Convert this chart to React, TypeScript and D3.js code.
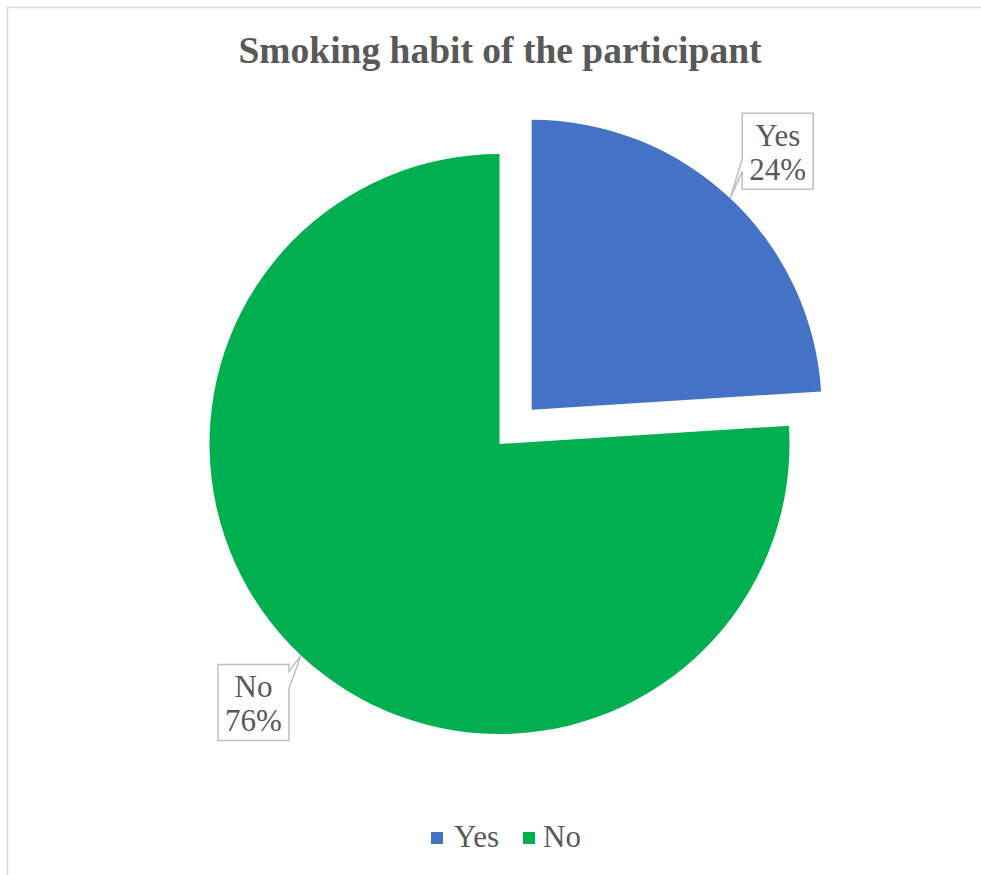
import React from "react";
import * as d3 from "d3";

const categories = ["Yes", "No"];
const values = [24, 76];
const colors = ["#4472C4", "#00B050"];
const title = "Smoking habit of the participant";

const W = 981;
const H = 875;
const cx = 499.5;
const cy = 444;
const R = 290;
const explode = [47, 0];
const textColor = "#595959";
const font = "'Liberation Serif', 'Times New Roman', serif";

export default function App() {
  const total = d3.sum(values);
  const pie = d3.pie<number>().sort(null).startAngle(0).endAngle(2 * Math.PI);
  const arcs = pie(values);
  const arc = d3.arc<d3.PieArcDatum<number>>().innerRadius(0).outerRadius(R);

  return (
    <svg width={W} height={H} style={{ position: "absolute", left: 0, top: 0 }}>
      <rect x={0} y={0} width={W} height={H} fill="#fff" />
      <path d={`M7.5,${H + 5} L7.5,7.5 L${W + 5},7.5`} fill="none" stroke="#D9D9D9" strokeWidth={1.5} />
      <text x={500} y={63} textAnchor="middle" fontFamily={font} fontWeight="bold" fontSize={37.5} fill={textColor}>
        {title}
      </text>
      {arcs.map((a, i) => {
        const mid = (a.startAngle + a.endAngle) / 2;
        const ox = explode[i] * Math.sin(mid);
        const oy = -explode[i] * Math.cos(mid);
        return (
          <g key={categories[i]} transform={`translate(${cx + ox},${cy + oy})`}>
            <path d={arc(a) || ""} fill={colors[i]} />
          </g>
        );
      })}
      {arcs.map((a, i) => {
        const mid = (a.startAngle + a.endAngle) / 2;
        const ox = explode[i] * Math.sin(mid);
        const oy = -explode[i] * Math.cos(mid);
        const tx = cx + ox + R * Math.sin(mid);
        const ty = cy + oy - R * Math.cos(mid);
        const right = Math.sin(mid) >= 0;
        const bw = 71;
        const bh = 76;
        let bx: number, by: number, path: string;
        if (right) {
          bx = tx + 12;
          by = ty - 85;
          path = `M${bx},${by} L${bx + bw},${by} L${bx + bw},${by + bh} L${bx},${by + bh} L${bx},${by + 58} L${tx},${ty} L${bx},${by + 46} Z`;
        } else {
          bx = tx - 12 - bw;
          by = ty + 9;
          path = `M${bx},${by} L${bx + bw},${by} L${bx + bw},${by + 7} L${tx},${ty} L${bx + bw},${by + 24} L${bx + bw},${by + bh} L${bx},${by + bh} Z`;
        }
        const pct = Math.round((values[i] / total) * 100) + "%";
        return (
          <g key={"lab" + i}>
            <path d={path} fill="#fff" stroke="#BFBFBF" strokeWidth={1.5} />
            <text x={bx + bw / 2} y={by + 33} textAnchor="middle" fontFamily={font} fontSize={31} fill={textColor}>
              {categories[i]}
            </text>
            <text x={bx + bw / 2} y={by + 67} textAnchor="middle" fontFamily={font} fontSize={31} fill={textColor}>
              {pct}
            </text>
          </g>
        );
      })}
      <g>
        <rect x={431} y={832} width={12} height={12} fill={colors[0]} />
        <text x={454} y={847} fontFamily={font} fontSize={31} fill={textColor}>{categories[0]}</text>
        <rect x={523} y={832} width={12} height={12} fill={colors[1]} />
        <text x={543} y={847} fontFamily={font} fontSize={31} fill={textColor}>{categories[1]}</text>
      </g>
    </svg>
  );
}
